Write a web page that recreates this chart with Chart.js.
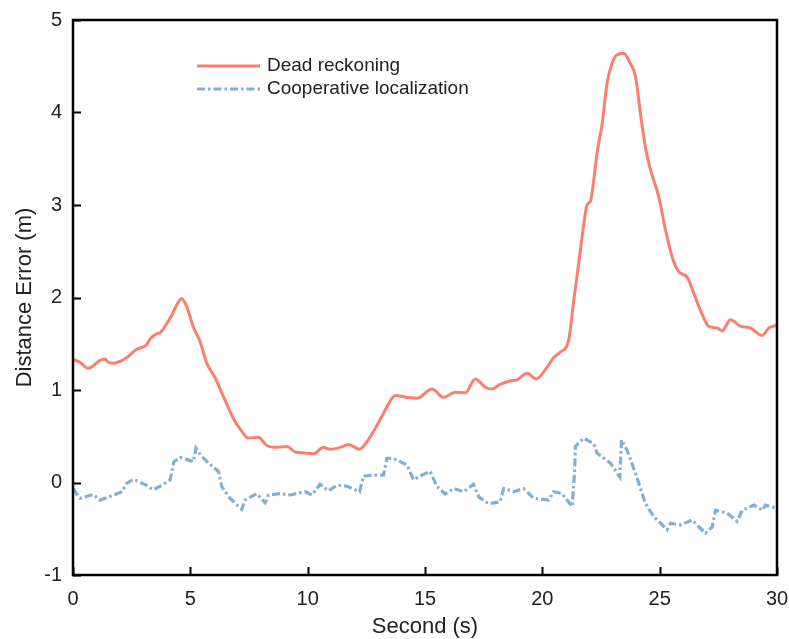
<!DOCTYPE html>
<html lang="en">
<head>
    <meta charset="UTF-8">
    <title>Distance Error</title>
    <style>
        body {
            margin: 0;
            padding: 0;
            background-color: #fff;
        }

        #chart {
            display: block;
        }
    </style>
</head>
<body>

    <canvas id="chart" width="789" height="639"></canvas>

    <script src="https://cdn.jsdelivr.net/npm/chart.js"></script>
    <script>
        // Dead reckoning error
        const drTime = [0, 0.3, 0.65, 1.15, 1.36, 1.5, 1.72, 2.0, 2.29, 2.71, 3.14, 3.28, 3.57, 3.71, 4.0, 4.21, 4.42, 4.63,
            4.85, 5.13, 5.42, 5.70, 6.06, 6.41, 6.84, 7.12, 7.48, 7.9, 8.26, 8.69, 9.11, 9.47, 9.89, 10.25, 10.67,
            10.96, 11.39, 11.74, 12.21, 12.52, 13.09, 13.45, 13.73, 14.23, 14.66, 15.3, 15.79, 16.29, 16.72, 17.14,
            17.57, 17.85, 18.2, 18.64, 18.92, 19.35, 19.74, 20.2, 20.48, 20.77, 21.12, 21.34, 21.55, 21.76, 21.9,
            22.05, 22.19, 22.33, 22.55, 22.76, 22.97, 23.16, 23.47, 23.75, 23.97, 24.18, 24.39, 24.61, 24.96, 25.25,
            25.53, 25.81, 26.17, 26.45, 26.74, 27.09, 27.45, 27.66, 28.02, 28.44, 28.87, 29.37, 29.65, 30];
        const drError = [1.335, 1.3, 1.235, 1.32, 1.335, 1.3, 1.29, 1.31, 1.35, 1.44, 1.49, 1.55, 1.61, 1.62, 1.72, 1.81, 1.92, 1.99,
            1.90, 1.68, 1.52, 1.29, 1.13, 0.93, 0.69, 0.58, 0.48, 0.49, 0.40, 0.38, 0.39, 0.33, 0.32, 0.31, 0.38,
            0.36, 0.38, 0.41, 0.36, 0.44, 0.68, 0.85, 0.94, 0.92, 0.91, 1.01, 0.92, 0.975, 0.97, 1.12,
            1.03, 1.01, 1.06, 1.10, 1.11, 1.18, 1.12, 1.245, 1.35, 1.41, 1.54, 1.97, 2.37, 2.78, 3.0,
            3.04, 3.27, 3.56, 3.88, 4.32, 4.53, 4.62, 4.64, 4.53, 4.39, 3.99, 3.63, 3.38, 3.09, 2.73,
            2.44, 2.28, 2.22, 2.05, 1.86, 1.69, 1.67, 1.64, 1.76, 1.69, 1.67, 1.59, 1.67, 1.70];

        // Cooperative localization error
        const clTime = [0, 0.3, 0.87, 1.15, 1.58, 2.08, 2.29, 2.57, 3.14, 3.42, 3.85, 4.14, 4.30, 4.58, 4.85, 5.13, 5.24, 5.42,
            5.77, 6.2, 6.34, 6.69, 7.19, 7.33, 7.83, 8.19, 8.33, 8.83, 9.25, 9.89, 10.18, 10.53, 10.89, 11.25,
            11.67, 12.21, 12.38, 12.81, 13.23, 13.38, 13.66, 14.23, 14.51, 14.87, 15.22, 15.51, 15.86, 16.22,
            16.64, 17.07, 17.29, 17.71, 18.2, 18.35, 18.78, 19.2, 19.63, 20.27, 20.48, 20.84, 21.27, 21.37, 21.41,
            21.76, 22.19, 22.33, 22.9, 23.3, 23.37, 23.61, 23.97, 24.39, 24.75, 25.32, 25.46, 25.88, 26.38, 26.95,
            27.24, 27.38, 27.87, 28.3, 28.52, 29.02, 29.37, 29.51, 30];
        const clError = [-0.07, -0.17, -0.13, -0.19, -0.15, -0.10, -0.01, 0.035, -0.03, -0.08, -0.02, 0.03, 0.225, 0.27, 0.25, 0.225, 0.37, 0.30,
            0.21, 0.12, -0.045, -0.17, -0.29, -0.19, -0.12, -0.22, -0.135, -0.12, -0.135, -0.10, -0.135, -0.02, -0.09, -0.03,
            -0.04, -0.10, 0.07, 0.08, 0.08, 0.26, 0.26, 0.19, 0.03, 0.08, 0.12, -0.045, -0.125, -0.065,
            -0.10, -0.02, -0.155, -0.23, -0.21, -0.065, -0.10, -0.065, -0.17, -0.19, -0.10, -0.12, -0.26, 0.10, 0.39,
            0.48, 0.42, 0.32, 0.21, 0.06, 0.46, 0.35, 0.10, -0.225, -0.37, -0.51, -0.44, -0.46, -0.405, -0.55,
            -0.48, -0.30, -0.33, -0.42, -0.30, -0.245, -0.30, -0.245, -0.28];

        const xTicks = [0, 5, 10, 15, 20, 25, 30];
        const yTicks = [-1, 0, 1, 2, 3, 4, 5];

        const toPoints = (xs, ys) => xs.map((x, i) => ({ x: x, y: ys[i] }));

        const FONT = 'Arial, "Liberation Sans", sans-serif';
        const TEXT = '#222';

        // Box frame, inward ticks and the legend inside the plot
        const framePlugin = {
            id: 'frame',
            afterDraw(chart) {
                const { ctx, chartArea: a, scales } = chart;
                ctx.save();
                ctx.strokeStyle = '#000';
                ctx.lineWidth = 2;
                ctx.beginPath();
                xTicks.forEach(v => {
                    const px = Math.round(scales.x.getPixelForValue(v)) + 0.5;
                    ctx.moveTo(px, a.bottom);
                    ctx.lineTo(px, a.bottom - 8);
                });
                yTicks.forEach(v => {
                    const py = Math.round(scales.y.getPixelForValue(v)) + 0.5;
                    ctx.moveTo(a.left, py);
                    ctx.lineTo(a.left + 8, py);
                });
                ctx.stroke();
                ctx.lineWidth = 2.5;
                ctx.strokeRect(a.left, a.top, a.right - a.left, a.bottom - a.top);

                // legend
                ctx.font = '19px ' + FONT;
                ctx.fillStyle = TEXT;
                ctx.textBaseline = 'middle';
                chart.data.datasets.forEach((ds, i) => {
                    const y = 66 + i * 23;
                    ctx.beginPath();
                    ctx.strokeStyle = ds.borderColor;
                    ctx.lineWidth = ds.borderWidth;
                    ctx.setLineDash(ds.borderDash || []);
                    ctx.moveTo(197, y);
                    ctx.lineTo(260, y);
                    ctx.stroke();
                    ctx.setLineDash([]);
                    ctx.fillText(ds.label, 267, y);
                });
                ctx.restore();
            }
        };

        new Chart(document.getElementById('chart'), {
            type: 'line',
            data: {
                datasets: [{
                    label: 'Dead reckoning',
                    data: toPoints(drTime, drError),
                    borderColor: '#FA7F6F',
                    borderWidth: 3,
                    pointRadius: 0,
                    cubicInterpolationMode: 'monotone'
                }, {
                    label: 'Cooperative localization',
                    data: toPoints(clTime, clError),
                    borderColor: '#82B0D2',
                    borderWidth: 3.2,
                    borderDash: [8, 3, 2.5, 3],
                    pointRadius: 0,
                    tension: 0
                }]
            },
            options: {
                responsive: false,
                animation: false,
                layout: { padding: { top: 20, right: 12, left: 0, bottom: 0 } },
                plugins: {
                    legend: { display: false },
                    tooltip: { enabled: false }
                },
                scales: {
                    x: {
                        type: 'linear',
                        min: 0,
                        max: 30,
                        afterBuildTicks: s => { s.ticks = xTicks.map(v => ({ value: v })); },
                        afterFit: s => { s.height = 64; s.paddingRight = 0; s.paddingLeft = 0; },
                        grid: { display: false, drawTicks: false },
                        border: { display: false },
                        ticks: { padding: 12, color: TEXT, font: { family: FONT, size: 20 } },
                        title: {
                            display: true,
                            text: 'Second (s)',
                            color: TEXT,
                            font: { family: FONT, size: 22, lineHeight: 1 },
                            padding: { top: 0, bottom: 1 }
                        }
                    },
                    y: {
                        min: -1,
                        max: 5,
                        afterBuildTicks: s => { s.ticks = yTicks.map(v => ({ value: v })); },
                        afterFit: s => { s.width = 73; s.paddingTop = 0; s.paddingBottom = 0; },
                        grid: { display: false, drawTicks: false },
                        border: { display: false },
                        ticks: { padding: 11, color: TEXT, font: { family: FONT, size: 20 } },
                        title: {
                            display: true,
                            text: 'Distance Error (m)',
                            color: TEXT,
                            font: { family: FONT, size: 22, lineHeight: 1 },
                            padding: { top: 14, bottom: 0 }
                        }
                    }
                }
            },
            plugins: [framePlugin]
        });
    </script>

</body>
</html>
